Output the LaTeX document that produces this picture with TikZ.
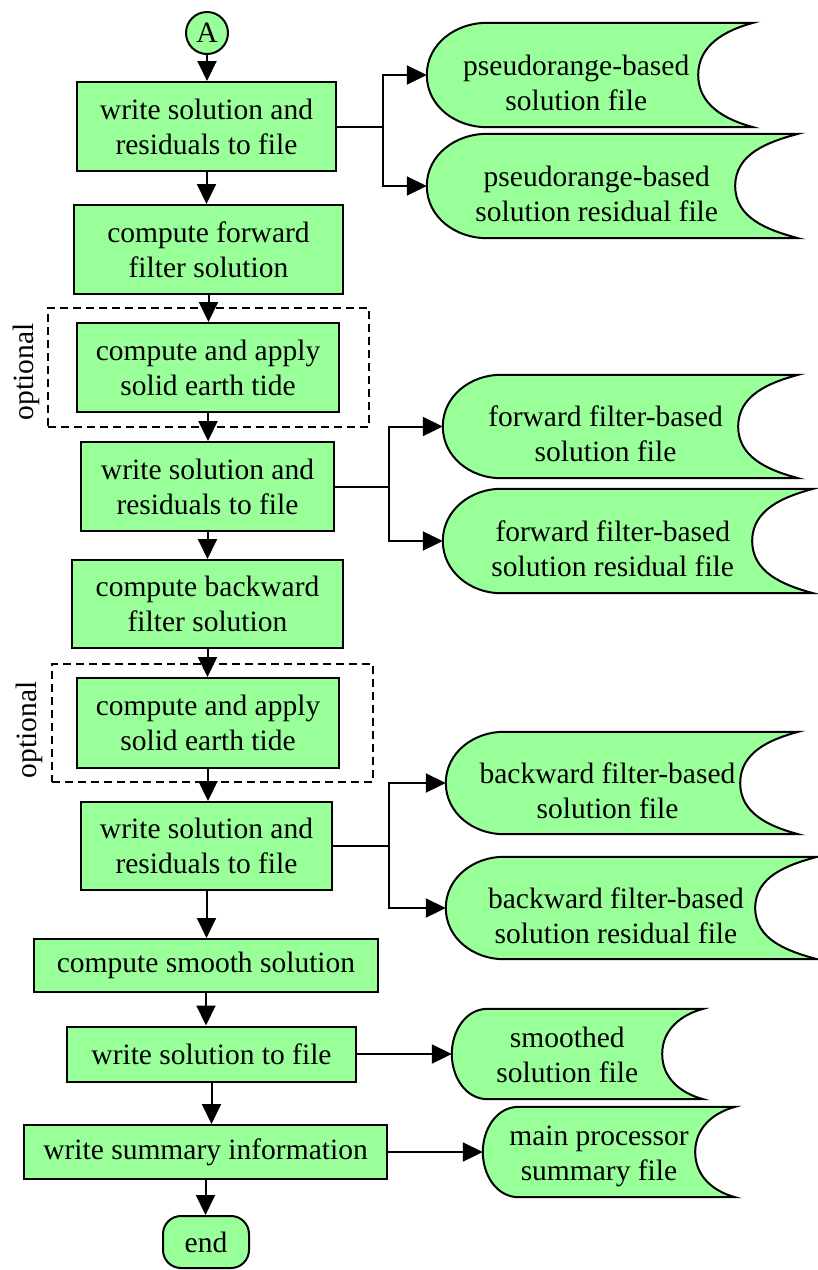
\documentclass[tikz,border=0pt]{standalone}
\usepackage{fontspec}
\setmainfont{Liberation Serif}
\usetikzlibrary{arrows.meta,backgrounds}
\definecolor{boxgreen}{RGB}{153,255,153}

\begin{document}
\begin{tikzpicture}[
  x=1pt, y=1pt,
  every node/.style={font=\fontsize{29.5}{35}\selectfont, align=center, inner sep=0pt},
  proc/.style={draw, line width=2pt, fill=boxgreen, minimum height=89pt},
  term/.style={proc, rounded corners=18pt},
  conn/.style={draw, line width=2pt, fill=boxgreen, circle, minimum size=42pt},
  store/.style={minimum height=104pt, text height=70pt, text depth=0pt},
  smallstore/.style={minimum height=90pt, text height=56pt, text depth=0pt},
  storeline/.style={draw, line width=2pt, fill=boxgreen},
  opt/.style={draw, line width=1.6pt, dash pattern=on 8pt off 5pt},
  lab/.style={rotate=90},
  arr/.style={line width=2pt, -{Triangle[length=20pt,width=19pt]}}
]
\useasboundingbox (0,0) rectangle (818,-1270);

% main column
\node[conn] (A) at (207,-33) {A};
\node[proc, minimum width=259pt] (b1) at (206.5,-126.5) {write solution and\\residuals to file};
\node[proc, minimum width=269pt] (b2) at (208.5,-249.5) {compute forward\\filter solution};
\node[proc, minimum width=262pt] (b3) at (208,-367.5) {compute and apply\\solid earth tide};
\node[proc, minimum width=253pt] (b4) at (207.5,-486.5) {write solution and\\residuals to file};
\node[proc, minimum width=271pt, minimum height=88pt] (b5) at (207.5,-604) {compute backward\\filter solution};
\node[proc, minimum width=262pt, minimum height=90pt] (b6) at (208,-723) {compute and apply\\solid earth tide};
\node[proc, minimum width=251pt, minimum height=88pt] (b7) at (206.5,-846) {write solution and\\residuals to file};
\node[proc, minimum width=344pt, minimum height=53pt] (b8) at (206,-965.5) {compute smooth solution};
\node[proc, minimum width=289pt, minimum height=55pt] (b9) at (211.5,-1054) {write solution to file};
\node[proc, minimum width=363pt, minimum height=54pt] (b10) at (205.5,-1152) {write summary information};
\node[term, minimum width=86pt, minimum height=52pt] (end) at (206,-1242) {end};

% optional steps
\node[opt, minimum width=321pt, minimum height=119pt] (o1) at (208.5,-367.5) {};
\node[opt, minimum width=321pt, minimum height=118pt] (o2) at (212.5,-723) {};
\node[lab] (l1) at (26,-372) {optional};
\node[lab] (l2) at (29,-730) {optional};

% output files
\node[store, minimum width=298.5pt] (f1) at (576.25,-75) {pseudorange-based\\solution file};
\node[store, minimum width=339.5pt] (f2) at (596.75,-186) {pseudorange-based\\solution residual file};
\node[store, minimum width=325pt, minimum height=103pt] (f3) at (605.5,-426.5) {forward filter-based\\solution file};
\node[store, minimum width=339.5pt] (f4) at (612.75,-541) {forward filter-based\\solution residual file};
\node[store, minimum width=323pt, minimum height=102pt] (f5) at (607.5,-783) {backward filter-based\\solution file};
\node[store, minimum width=340pt, minimum height=102pt] (f6) at (616,-908) {backward filter-based\\solution residual file};
\node[smallstore, minimum width=230.5pt] (f7) at (567.25,-1054) {smoothed\\solution file};
\node[smallstore, minimum width=232pt] (f8) at (599,-1152) {main processor\\summary file};

% file outlines: round left side, hollow right side
\begin{scope}[on background layer]
\foreach \f/\d/\b in {f1/55/60, f2/63/60, f3/60/58, f4/61/58, f5/58/58, f6/62/58, f7/41/36, f8/40/36}
  \draw[storeline] ([xshift=\d/2]\f.north east) to[out=195,in=90] ([xshift=-\d/2]\f.east)
    to[out=-90,in=165] ([xshift=\d/2]\f.south east) -- ([xshift=\b]\f.south west)
    to[out=180,in=-90] (\f.west) to[out=90,in=180] ([xshift=\b]\f.north west) -- cycle;
\end{scope}

% flow
\foreach \a/\b in {A/b1, b1/b2, b2/b3, b3/b4, b4/b5, b5/b6, b6/b7, b7/b8, b8/b9, b9/b10, b10/end}
  \draw[arr] (\a) -- (\a |- \b.north);

\draw[arr] (b1.east) -- ++(46,0) |- (f1.west);
\draw[arr] (b1.east) -- ++(46,0) |- (f2.west);
\draw[arr] (b4.east) -- ++(54,0) |- (f3.west);
\draw[arr] (b4.east) -- ++(54,0) |- (f4.west);
\draw[arr] (b7.east) -- ++(56,0) |- (f5.west);
\draw[arr] (b7.east) -- ++(56,0) |- (f6.west);
\draw[arr] (b9) -- (f7);
\draw[arr] (b10) -- (f8);
\end{tikzpicture}
\end{document}
